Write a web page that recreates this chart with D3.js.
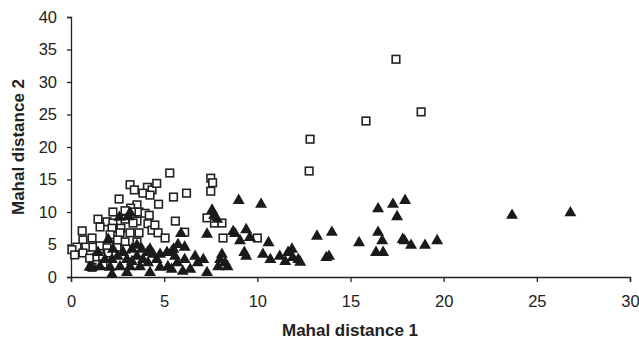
<!DOCTYPE html>
<html>
<head>
<meta charset="utf-8">
<script src="https://cdn.jsdelivr.net/npm/d3@7"></script>
<style>
  body { margin: 0; background: #fff; }
  svg { display: block; font-family: "Liberation Sans", Arial, sans-serif; }
</style>
</head>
<body>
<svg id="chart" width="639" height="343"></svg>
<script>
// open squares group
var squareX = [17.44, 18.79, 15.83, 12.83, 12.78, 5.3, 7.5, 7.6, 7.5, 6.2, 5.5, 5.6, 6.1, 7.3, 7.7, 8.1, 8.16, 10.0,
  3.17, 3.4, 4.1, 4.35, 4.6, 3.86, 4.24, 2.58, 3.54, 4.7, 3.2, 2.9, 2.25, 3.4, 3.65, 3.97, 4.2, 2.9, 3.54,
  1.45, 1.93, 2.25, 1.56, 2.2, 2.68, 3.33, 4.13, 4.35, 4.5, 4.67, 5.05, 2.63, 2.1, 3.17, 3.65, 2.9, 0.64, 1.13,
  0.32, 0.8, 1.18, 1.56, 1.93, 0.05, 0.2, 0.64, 1.0, 1.4, 1.7, 2.0, 1.13, 1.72, 2.95, 2.47, 3.54, 2.5, 0.6];
var squareY = [33.5, 25.4, 24.0, 21.2, 16.3, 16.0, 15.2, 14.5, 13.2, 12.9, 12.3, 8.6, 6.9, 9.1, 8.3, 8.3, 6.0, 6.0,
  14.2, 13.4, 13.8, 13.4, 14.4, 12.9, 12.6, 12.0, 11.1, 11.2, 10.6, 10.2, 10.0, 10.0, 10.0, 9.8, 9.5, 8.9, 8.6,
  8.9, 8.5, 8.3, 7.7, 7.5, 7.5, 8.3, 8.2, 7.2, 8.0, 6.8, 6.0, 6.8, 6.5, 6.8, 6.8, 5.4, 5.7, 6.0,
  4.6, 4.6, 4.6, 4.8, 4.5, 4.2, 3.4, 3.7, 2.9, 3.1, 3.1, 3.7, 1.5, 2.0, 4.3, 4.6, 5.4, 5.7, 7.1];

// filled triangles group
var triangleX = [19.65, 23.67, 26.8, 11.86, 11.9, 12.3, 13.2, 14.0, 13.7, 13.85, 15.46, 16.48, 17.28, 17.93, 17.5,
  16.48, 16.7, 16.37, 16.75, 17.8, 17.9, 18.25, 19.0,
  9.0, 10.2, 7.57, 7.68, 7.84, 7.3, 5.9, 8.7, 8.8, 9.4, 9.07, 9.6, 9.4, 9.3, 10.6, 10.3, 10.7, 11.2, 11.5, 11.65,
  12.2, 6.1, 5.5, 6.1, 6.66, 6.8, 7.1, 6.4, 6.0, 7.3, 8.1, 8.0, 8.27, 8.4, 7.9, 5.4,
  2.6, 3.17, 3.06, 3.54, 2.0, 1.45, 4.24, 4.1, 4.4, 4.78, 5.15, 5.4, 2.2, 2.5, 3.0, 3.54, 3.86, 4.13, 4.6,
  3.7, 3.17, 2.63, 2.1, 1.56, 1.13, 2.2, 3.0, 4.24, 4.78, 5.2, 5.7, 5.58, 3.27, 2.8, 1.82, 5.74, 3.8, 3.27, 2.25, 1.0];
var triangleY = [5.5, 9.4, 9.8, 4.2, 2.9, 2.2, 6.2, 6.8, 2.9, 3.1, 5.2, 10.4, 11.1, 11.7, 9.2,
  6.8, 5.5, 3.7, 3.7, 5.7, 5.5, 4.8, 4.8,
  11.7, 11.1, 10.2, 9.4, 8.8, 6.5, 6.6, 6.9, 6.6, 7.2, 5.5, 6.0, 3.1, 3.7, 5.2, 3.4, 2.6, 3.1, 2.3, 3.7,
  2.6, 4.5, 4.2, 2.6, 3.1, 2.1, 2.6, 1.1, 0.8, 0.6, 3.4, 2.6, 2.1, 1.5, 1.5, 1.1,
  9.1, 9.8, 9.2, 4.8, 5.7, 3.7, 4.2, 3.7, 3.4, 3.4, 3.7, 3.8, 2.6, 3.1, 2.6, 3.1, 2.6, 2.1, 2.6,
  1.5, 1.5, 1.5, 1.4, 1.5, 1.4, 0.3, 0.6, 0.6, 1.4, 1.5, 2.1, 3.1, 2.3, 3.7, 2.6, 4.9, 4.2, 4.2, 4.2, 1.4];

var xTicks = [0, 5, 10, 15, 20, 25, 30];
var yTicks = [0, 5, 10, 15, 20, 25, 30, 35, 40];

var svg = d3.select("#chart");
var margin = {top: 17, right: 9, bottom: 66, left: 71};
var width = 639 - margin.left - margin.right,
    height = 343 - margin.top - margin.bottom;

var g = svg.append("g").attr("transform", "translate(" + margin.left + "," + margin.top + ")");

var x = d3.scaleLinear().domain([0, 30]).range([0, width]);
var y = d3.scaleLinear().domain([0, 40]).range([height, 0]);

var xAxis = g.append("g")
    .attr("transform", "translate(0," + height + ")")
    .call(d3.axisBottom(x).tickValues(xTicks).tickSize(5).tickPadding(13));
var yAxis = g.append("g")
    .call(d3.axisLeft(y).tickValues(yTicks).tickSize(4).tickPadding(10));

[xAxis, yAxis].forEach(function(a) {
  a.selectAll("path, line").attr("stroke", "#222").attr("stroke-width", 1.3);
  a.selectAll("text").attr("fill", "#222").style("font-size", "16.5px")
    .style("font-family", "'Liberation Sans', Arial, sans-serif");
});

var squares = d3.zip(squareX, squareY);
var triangles = d3.zip(triangleX, triangleY);

g.selectAll(".sq").data(squares).enter().append("rect")
    .attr("class", "sq")
    .attr("x", function(d) { return x(d[0]) - 3.8; })
    .attr("y", function(d) { return y(d[1]) - 3.8; })
    .attr("width", 7.6).attr("height", 7.6)
    .attr("fill", "#fff").attr("stroke", "#222").attr("stroke-width", 1.6);

var tri = d3.symbol().type(d3.symbolTriangle).size(62);
g.selectAll(".tri").data(triangles).enter().append("path")
    .attr("class", "tri")
    .attr("transform", function(d) { return "translate(" + x(d[0]) + "," + (y(d[1]) - 0.5) + ")"; })
    .attr("d", tri)
    .attr("fill", "#1a1a1a");

svg.append("text")
    .attr("x", 350)
    .attr("y", 336)
    .attr("text-anchor", "middle")
    .attr("fill", "#222")
    .style("font-size", "17px").style("font-weight", "bold")
    .text("Mahal distance 1");

svg.append("text")
    .attr("transform", "translate(24," + (margin.top + height / 2) + ") rotate(-90)")
    .attr("text-anchor", "middle")
    .attr("fill", "#222")
    .style("font-size", "17px").style("font-weight", "bold")
    .text("Mahal distance 2");
</script>
</body>
</html>
